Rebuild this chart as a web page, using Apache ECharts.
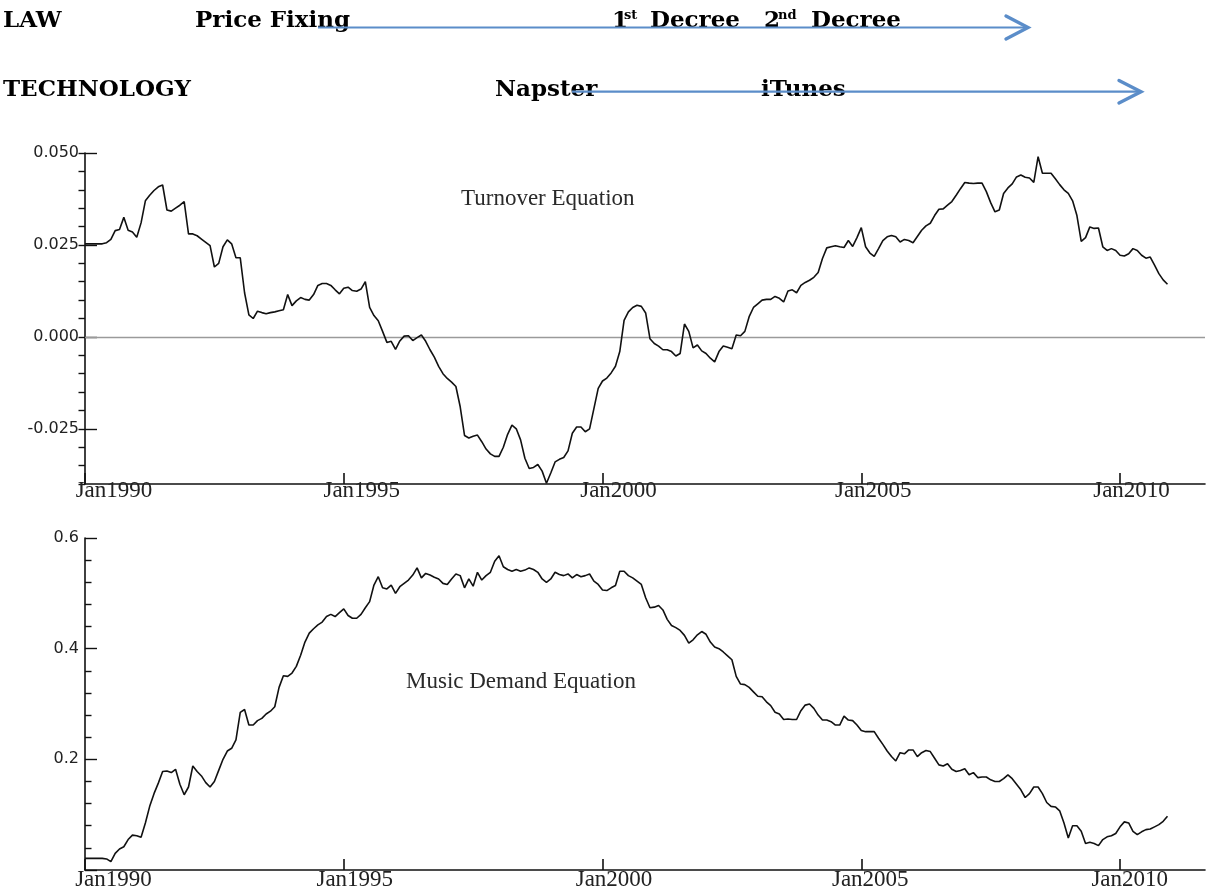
<!DOCTYPE html>
<html><head><meta charset="utf-8">
<script src="https://cdn.jsdelivr.net/npm/echarts@6/dist/echarts.min.js"></script>
<style>html,body{margin:0;padding:0;background:#fff}#chart{width:1206px;height:894px}</style>
</head><body><div id="chart"></div>
<script>
// ---- data (monthly, Jan 1990 .. Dec 2010) ----
const startYear = 1990;
const xTickYears = [1990, 1995, 2000, 2005, 2010];
const turnoverTicks = [-0.025, 0, 0.025, 0.05];
const demandTicks = [0.2, 0.4, 0.6];
const panelTitles = ['Turnover Equation', 'Music Demand Equation'];

const turnover = [
  .0253,.0253,.0253,.0253,.0253,.0256,.0265,.0289,.0292,.0325,
  .029,.0285,.0271,.031,.037,.0385,.0398,.0408,.0413,.0345,
  .0342,.035,.0358,.0368,.028,.028,.0275,.0266,.0257,.0248,
  .019,.02,.0245,.0264,.0253,.0215,.0215,.012,.006,.005,
  .007,.0066,.0063,.0066,.0068,.0071,.0074,.0115,.0085,.0098,
  .0107,.0102,.01,.0115,.014,.0145,.0145,.014,.0128,.0117,
  .0132,.0135,.0126,.0124,.013,.015,.008,.0058,.0044,.0015,
  -.0015,-.0012,-.0034,-.0011,.0002,.0003,-.001,-.0002,.0005,-.0012,
  -.0035,-.0055,-.008,-.01,-.0113,-.0123,-.0135,-.019,-.0268,-.0275,
  -.027,-.0267,-.0285,-.0305,-.0318,-.0325,-.0325,-.03,-.0265,-.024,
  -.025,-.028,-.033,-.0358,-.0355,-.0347,-.0365,-.0398,-.037,-.034,
  -.0333,-.0328,-.031,-.0262,-.0245,-.0245,-.0258,-.025,-.0195,-.014,
  -.012,-.0112,-.0098,-.008,-.004,.0045,.0068,.008,.0086,.0083,
  .0065,-.0005,-.0018,-.0025,-.0035,-.0035,-.004,-.0052,-.0045,.0035,
  .0015,-.003,-.0022,-.0038,-.0045,-.0058,-.0068,-.004,-.0025,-.0028,
  -.0032,.0005,.0003,.0015,.0055,.008,.009,.01,.0102,.0102,
  .011,.0105,.0095,.0125,.0128,.012,.014,.0148,.0154,.0162,
  .0175,.0213,.0242,.0245,.0248,.0245,.0243,.0262,.0246,.027,
  .0297,.0245,.0228,.0219,.024,.0262,.0272,.0276,.0272,.0258,
  .0265,.0262,.0256,.0273,.029,.0302,.0309,.033,.0347,.0348,
  .0358,.0368,.0385,.0403,.042,.0418,.0417,.0418,.0418,.0395,
  .0365,.034,.0345,.039,.0405,.0416,.0435,.044,.0434,.0432,
  .042,.049,.0445,.0445,.0445,.043,.0414,.04,.039,.037,
  .033,.026,.027,.0299,.0295,.0296,.0245,.0235,.024,.0235,
  .0222,.022,.0226,.024,.0235,.0222,.0214,.0217,.0195,.0172,
  .0155,.0143
];

const musicDemand = [
  .021,.021,.021,.021,.021,.020,.015,.030,.038,.042,
  .055,.063,.062,.059,.085,.115,.138,.157,.178,.179,
  .176,.182,.155,.136,.150,.188,.178,.170,.158,.150,
  .160,.180,.200,.215,.220,.235,.285,.290,.262,.262,
  .270,.274,.282,.287,.295,.330,.351,.350,.356,.368,
  .388,.412,.428,.436,.443,.448,.458,.462,.458,.465,
  .472,.460,.455,.455,.462,.474,.485,.515,.530,.510,
  .508,.515,.500,.512,.518,.524,.533,.546,.528,.536,
  .533,.529,.526,.518,.516,.526,.535,.532,.510,.526,
  .513,.538,.524,.532,.538,.558,.568,.548,.543,.540,
  .543,.540,.542,.546,.543,.538,.526,.520,.526,.538,
  .534,.532,.535,.528,.534,.530,.532,.535,.522,.516,
  .506,.505,.510,.514,.540,.540,.532,.528,.522,.516,
  .492,.474,.475,.478,.470,.453,.442,.438,.433,.424,
  .410,.416,.425,.431,.426,.412,.403,.400,.394,.387,
  .380,.350,.336,.335,.330,.322,.314,.313,.304,.297,
  .285,.282,.272,.273,.272,.272,.288,.298,.300,.292,
  .280,.271,.271,.268,.262,.262,.278,.271,.270,.262,
  .252,.250,.250,.250,.238,.227,.215,.205,.197,.212,
  .210,.217,.217,.205,.212,.216,.214,.202,.190,.188,
  .192,.182,.178,.180,.183,.172,.176,.167,.168,.168,
  .163,.160,.160,.165,.172,.165,.155,.145,.131,.138,
  .150,.150,.138,.122,.115,.114,.107,.085,.058,.080,
  .080,.070,.048,.050,.048,.044,.055,.060,.062,.066,
  .078,.087,.085,.070,.064,.069,.073,.074,.078,.082,
  .088,.097
];

// ---- chart ----
const chart = echarts.init(document.getElementById('chart'), null, {renderer: 'canvas'});
const xTickValues = xTickYears.map(y => (y - startYear) * 12);
const AX = '#111';
const serif = '"Liberation Serif", "Times New Roman", serif';
const headFont = 'bold 23px "DejaVu Serif", serif';
const supFont = 'bold 13px "DejaVu Serif", serif';
const blue = '#5b8dc9';

function xAxis(gridIndex, shifts, margin) {
  const rich = {};
  shifts.forEach((s, i) => {
    rich['p' + i] = {padding: [0, 0, 0, 2 * s], fontFamily: serif, fontSize: 23, color: '#222'};
  });
  return {
    type: 'value', gridIndex, min: 0, max: 259.7,
    axisLine: {onZero: false, lineStyle: {color: AX, width: 1.6}},
    axisTick: {inside: true, length: 11, customValues: xTickValues, lineStyle: {color: AX, width: 1.6}},
    splitLine: {show: false},
    axisLabel: {
      customValues: xTickValues, margin,
      fontFamily: serif, fontSize: 23, color: '#222',
      formatter: v => {
        const i = xTickValues.indexOf(v);
        return '{p' + i + '|Jan' + (startYear + v / 12) + '}';
      },
      rich
    }
  };
}

const option = {
  animation: false,
  backgroundColor: '#fff',
  grid: [
    {left: 85, top: 153, width: 1120, height: 331},
    {left: 85, top: 538, width: 1120, height: 332}
  ],
  xAxis: [
    xAxis(0, [29, 18, 16, 12, 11.5], -5),
    xAxis(1, [28.5, 11, 11.5, 9, 9.7], -2)
  ],
  yAxis: [
    {
      type: 'value', gridIndex: 0, min: -0.04, max: 0.05,
      axisLine: {show: true, onZero: false, lineStyle: {color: AX, width: 1.6}},
      axisTick: {inside: true, length: 12, customValues: turnoverTicks, lineStyle: {color: AX, width: 1.4}},
      axisLabel: {customValues: turnoverTicks, margin: 6, fontFamily: '"DejaVu Sans", sans-serif', fontSize: 16, color: '#222',
        formatter: v => v.toFixed(3)},
      splitLine: {show: false}
    },
    {
      type: 'value', gridIndex: 0, min: -0.04, max: 0.05, interval: 0.005,
      axisLine: {show: false},
      axisTick: {inside: true, length: 6.5, lineStyle: {color: AX, width: 1.4}},
      axisLabel: {show: false},
      splitLine: {show: false}
    },
    {
      type: 'value', gridIndex: 1, min: 0, max: 0.6, interval: 0.2,
      axisLine: {show: true, onZero: false, lineStyle: {color: AX, width: 1.6}},
      axisTick: {inside: true, length: 12, lineStyle: {color: AX, width: 1.4}},
      minorTick: {show: true, splitNumber: 5, length: 6.5, lineStyle: {color: AX, width: 1.4}},
      axisLabel: {showMinLabel: false, margin: 6, fontFamily: '"DejaVu Sans", sans-serif', fontSize: 16, color: '#222',
        formatter: v => (demandTicks.some(t => Math.abs(t - v) < 1e-9) ? v.toFixed(1) : '')},
      splitLine: {show: false}
    }
  ],
  series: [
    {
      type: 'line', xAxisIndex: 0, yAxisIndex: 0, showSymbol: false, z: 5,
      data: turnover.map((v, i) => [i, v]),
      lineStyle: {color: '#111', width: 1.6},
      markLine: {
        silent: true, symbol: 'none', label: {show: false}, z: 1,
        lineStyle: {color: '#9a9a9a', width: 1.3, type: 'solid'},
        data: [{yAxis: 0}]
      }
    },
    {
      type: 'line', xAxisIndex: 1, yAxisIndex: 2, showSymbol: false, z: 5,
      data: musicDemand.map((v, i) => [i, v]),
      lineStyle: {color: '#111', width: 1.6}
    }
  ],
  graphic: [
    {type: 'text', x: 461, y: 199, style: {text: panelTitles[0], font: '23px ' + serif, fill: '#2a2a2a', verticalAlign: 'middle'}},
    {type: 'text', x: 406, y: 682, style: {text: panelTitles[1], font: '23px ' + serif, fill: '#2a2a2a', verticalAlign: 'middle'}},

    {type: 'text', x: 3, y: 21, style: {text: 'LAW', font: headFont, fill: '#000', verticalAlign: 'middle'}},
    {type: 'text', x: 195, y: 21, style: {text: 'Price Fixing', font: headFont, fill: '#000', verticalAlign: 'middle'}},
    {type: 'text', x: 612, y: 21, style: {text: '1', font: headFont, fill: '#000', verticalAlign: 'middle'}},
    {type: 'text', x: 624, y: 16, style: {text: 'st', font: supFont, fill: '#000', verticalAlign: 'middle'}},
    {type: 'text', x: 650, y: 21, style: {text: 'Decree', font: headFont, fill: '#000', verticalAlign: 'middle'}},
    {type: 'text', x: 764, y: 21, style: {text: '2', font: headFont, fill: '#000', verticalAlign: 'middle'}},
    {type: 'text', x: 778, y: 16, style: {text: 'nd', font: supFont, fill: '#000', verticalAlign: 'middle'}},
    {type: 'text', x: 811, y: 21, style: {text: 'Decree', font: headFont, fill: '#000', verticalAlign: 'middle'}},

    {type: 'text', x: 3, y: 90, style: {text: 'TECHNOLOGY', font: headFont, fill: '#000', verticalAlign: 'middle'}},
    {type: 'text', x: 495, y: 90, style: {text: 'Napster', font: headFont, fill: '#000', verticalAlign: 'middle'}},
    {type: 'text', x: 761, y: 90, style: {text: 'iTunes', font: headFont, fill: '#000', verticalAlign: 'middle'}},

    {type: 'line', z: 10, shape: {x1: 318, y1: 27.5, x2: 1027, y2: 27.5}, style: {stroke: blue, lineWidth: 2.2}},
    {type: 'polyline', z: 10, shape: {points: [[1006, 16], [1028, 27.5], [1006, 39]]}, style: {stroke: blue, lineWidth: 3.4, fill: null, lineJoin: 'miter', lineCap: 'round'}},
    {type: 'line', z: 10, shape: {x1: 572, y1: 91.7, x2: 1139, y2: 91.7}, style: {stroke: blue, lineWidth: 2.2}},
    {type: 'polyline', z: 10, shape: {points: [[1119, 80.5], [1141, 91.7], [1119, 103]]}, style: {stroke: blue, lineWidth: 3.4, fill: null, lineJoin: 'miter', lineCap: 'round'}}
  ]
};
chart.setOption(option);
</script>
</body></html>
